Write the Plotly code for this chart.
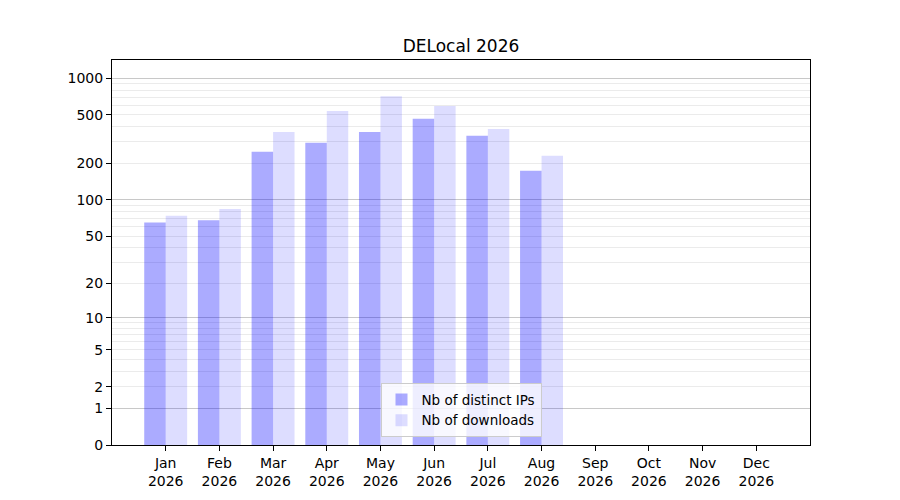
import plotly.graph_objects as go

# monthly stats for DELocal
months = ['Jan', 'Feb', 'Mar', 'Apr', 'May', 'Jun', 'Jul', 'Aug', 'Sep', 'Oct', 'Nov', 'Dec']
year = 2026
distinct_ips = [65, 68, 249, 295, 363, 464, 337, 174, 0, 0, 0, 0]
downloads = [74, 84, 363, 539, 712, 592, 384, 231, 0, 0, 0, 0]

y_ticks = [0, 1, 2, 5, 10, 20, 50, 100, 200, 500, 1000]
y_major_grid = [1, 10, 100, 1000]
y_minor_grid = [m * d for d in (1, 10, 100) for m in range(2, 10)]

labels = [f'{m}<br>{year}' for m in months]

# log(x+1) scale: shift everything by one and use a log axis
def shift(vals):
    return [v + 1 for v in vals]

font = 'DejaVu Sans'

fig = go.Figure()
fig.add_trace(go.Bar(x=labels, y=shift(distinct_ips), name='Nb of distinct IPs',
                     marker=dict(color='rgba(0,0,255,0.33)', line=dict(width=0))))
fig.add_trace(go.Bar(x=labels, y=shift(downloads), name='Nb of downloads',
                     marker=dict(color='rgba(0,0,255,0.135)', line=dict(width=0))))
# invisible trace so the overlaid axis (darker major grid) gets drawn
fig.add_trace(go.Scatter(x=labels, y=shift(downloads), yaxis='y2', mode='markers',
                         marker=dict(opacity=0), showlegend=False, hoverinfo='skip'))

yrange = [0, 3.149]

# page body has an 8px margin, so margins are shifted to keep the axes in place
fig.update_layout(
    width=900, height=500,
    margin=dict(l=104, r=98, t=52, b=63),
    paper_bgcolor='white', plot_bgcolor='white',
    font=dict(family=font, size=14, color='black'),
    title=dict(text='DELocal 2026', x=0.5, xref='paper', y=0.924, yref='container',
               yanchor='middle', font=dict(size=17, color='black')),
    barmode='group', bargap=0.2, bargroupgap=0,
    legend=dict(x=0.5, y=0.02, xanchor='center', yanchor='bottom',
                bgcolor='rgba(255,255,255,0.8)', bordercolor='#cccccc', borderwidth=1,
                font=dict(size=13.5), tracegroupgap=0),
    xaxis=dict(range=[-1, 12], showline=True, mirror=True, linecolor='black', linewidth=1,
               ticks='outside', ticklen=5, tickcolor='black', showgrid=False),
    yaxis=dict(type='log', range=yrange, showline=True, mirror=True, linecolor='black',
               linewidth=1, ticks='outside', ticklen=5, tickcolor='black',
               tickmode='array', tickvals=shift(y_ticks), ticktext=[str(t) for t in y_ticks],
               showgrid=False, zeroline=False,
               minor=dict(tickmode='array', tickvals=shift(y_minor_grid),
                          showgrid=True, gridcolor='#ebebeb', gridwidth=1, ticks='')),
    yaxis2=dict(type='log', range=yrange, overlaying='y', side='left',
                tickmode='array', tickvals=shift(y_major_grid), showticklabels=False,
                ticks='', showgrid=True, gridcolor='#c8c8c8', gridwidth=1, showline=False,
                zeroline=False),
)

fig.write_html('out.html')
